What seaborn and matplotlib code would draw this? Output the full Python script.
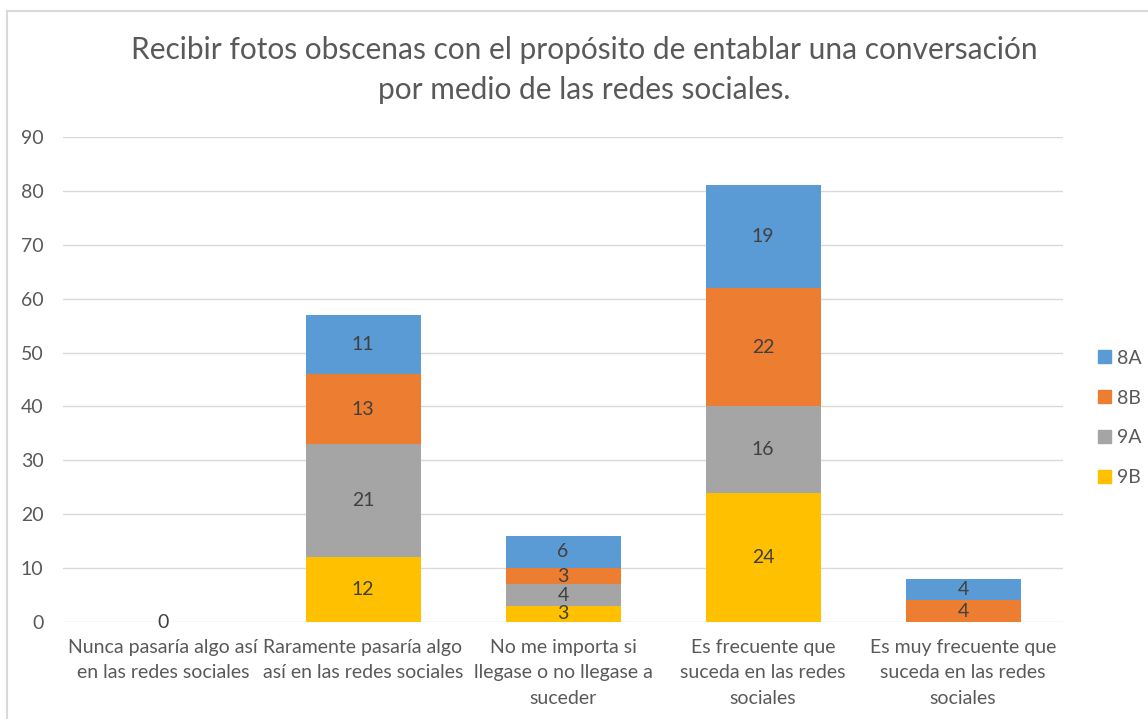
import numpy as np
import pandas as pd
import matplotlib
matplotlib.use("Agg")
import matplotlib.pyplot as plt
from matplotlib.patches import Rectangle
import seaborn as sns

# data
categories = [
    "Nunca pasaría algo así\nen las redes sociales",
    "Raramente pasaría algo\nasí en las redes sociales",
    "No me importa si\nllegase o no llegase a\nsuceder",
    "Es frecuente que\nsuceda en las redes\nsociales",
    "Es muy frecuente que\nsuceda en las redes\nsociales",
]
g9B = [0, 12, 3, 24, 0]
g9A = [0, 21, 4, 16, 0]
g8B = [0, 13, 3, 22, 4]
g8A = [0, 11, 6, 19, 4]

series = ["9B", "9A", "8B", "8A"]
values = [g9B, g9A, g8B, g8A]
colors = {"8A": "#5b9bd5", "8B": "#ed7d31", "9A": "#a5a5a5", "9B": "#ffc000"}

sns.set_theme(style="white")
plt.rcParams["font.family"] = ["Lato", "DejaVu Sans"]

fig = plt.figure(figsize=(11.48, 7.19), dpi=100)
ax = fig.add_axes([63 / 1148, 97 / 719, 1000 / 1148, 485 / 719])

cum = np.cumsum(np.array(values), axis=0)
df = pd.DataFrame({"cat": categories})

# draw cumulative totals from the top series down so each layer sits on the last
for i in range(len(series) - 1, -1, -1):
    df["v"] = cum[i]
    sns.barplot(data=df, x="cat", y="v", color=colors[series[i]], saturation=1,
                width=0.575, linewidth=0, ax=ax, zorder=3)

# segment labels
for j in range(len(categories)):
    total = cum[-1][j]
    if total == 0:
        ax.text(j, 0, "0", ha="center", va="center", fontsize=14, color="#404040", zorder=5)
        continue
    for i in range(len(series)):
        v = values[i][j]
        if v == 0:
            continue
        mid = cum[i][j] - v / 2
        ax.text(j, mid, str(v), ha="center", va="center", fontsize=14,
                color="#404040", zorder=5)

ax.set_ylim(0, 90)
ax.set_yticks(range(0, 91, 10))
ax.set_xlim(-0.5, 4.5)
ax.grid(axis="y", color="#d9d9d9", linewidth=1, zorder=0)
ax.set_axisbelow(True)
for s in ax.spines.values():
    s.set_visible(False)
ax.tick_params(axis="both", length=0, labelsize=14, colors="#595959")
ax.tick_params(axis="y", pad=14)
ax.tick_params(axis="x", pad=12)
for lbl in ax.get_xticklabels():
    lbl.set_linespacing(1.62)
ax.set_xlabel("")
ax.set_ylabel("")

fig.text(584 / 1148, 1 - 70 / 719,
         "Recibir fotos obscenas con el propósito de entablar una conversación\npor medio de las redes sociales.",
         ha="center", va="center", fontsize=21.5, color="#595959", linespacing=1.5)

handles = [Rectangle((0, 0), 1, 1, color=colors[s]) for s in ["8A", "8B", "9A", "9B"]]
fig.legend(handles, ["8A", "8B", "9A", "9B"], loc="center left",
           bbox_to_anchor=(1098 / 1148, 1 - 418 / 719), frameon=False,
           borderaxespad=0, borderpad=0,
           fontsize=14, labelcolor="#595959", handlelength=0.65, handleheight=0.65,
           handletextpad=0.35, labelspacing=1.18)

fig.patches.append(Rectangle((7 / 1148, -0.1), 1.2, 1.1 - 11 / 719, transform=fig.transFigure,
                             fill=False, edgecolor="#d9d9d9", linewidth=1.5))

fig.savefig("out.png", dpi=100)
